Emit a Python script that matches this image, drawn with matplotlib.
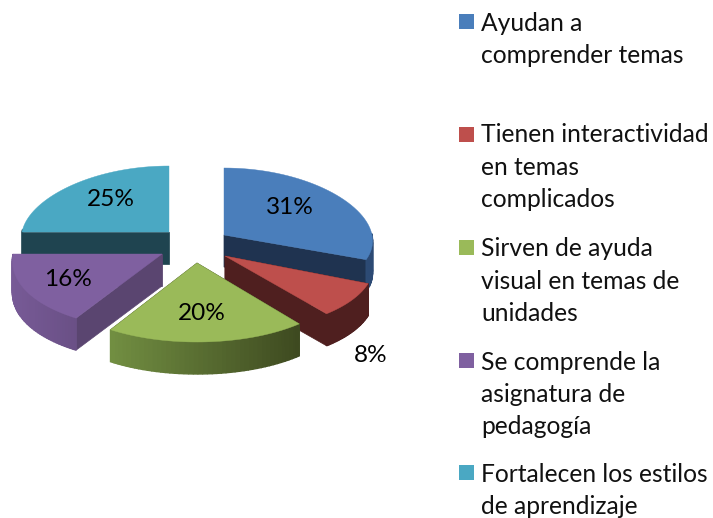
import numpy as np
import matplotlib
matplotlib.use("Agg")
import matplotlib.pyplot as plt
from matplotlib.colors import to_rgb
from matplotlib.patches import Rectangle

# Data
categories = ["Ayudan a\ncomprender temas",
              "Tienen interactividad\nen temas\ncomplicados",
              "Sirven de ayuda\nvisual en temas de\nunidades",
              "Se comprende la\nasignatura de\npedagogía",
              "Fortalecen los estilos\nde aprendizaje"]
shares = [31, 8, 20, 16, 25]
share_labels = ["31%", "8%", "20%", "16%", "25%"]

# Style / layout (pixel space)
top_colors = ["#4A7EBB", "#BE4F4C", "#9ABA59", "#7F60A0", "#4AA8C3"]
side_colors = ["#1F3350", "#4F1F1F", "#3E4A20", "#5A4570", "#1F4450"]
arc_left = ["#2C4A74", "#4F1F1F", "#728F42", "#775A96", "#1F4450"]
arc_right = ["#2C4A74", "#4F1F1F", "#3E4A20", "#6A5086", "#1F4450"]
apex_x = [224, 225, 197, 162, 169]
apex_y = [235, 256, 263, 254, 232]
rad_x = [148, 149, 150, 149, 147]
rad_y = [67, 75, 79, 76, 66]
depth = 32
persp = 0.09
paint_order = [4, 0, 1, 3, 2]
label_xy = [(290, 207), (371, 355), (202, 314), (68, 279), (111, 200)]
swatch_y = [14, 127, 240, 353, 465]
first_line_y = [21.5, 133, 247, 360, 472]
line_step = 32.4

plt.rcParams['font.family'] = ['Lato', 'DejaVu Sans']
fig = plt.figure(figsize=(7.13, 5.18), dpi=100)
ax = fig.add_axes([0, 0, 1, 1])
ax.set_xlim(0, 713)
ax.set_ylim(518, 0)
ax.axis("off")

frac = np.cumsum([0] + shares) / sum(shares) * 2 * np.pi


def project(i, t):
    x = apex_x[i] + rad_x[i] * np.sin(t) * (1 - persp * np.cos(t))
    y = apex_y[i] - rad_y[i] * np.cos(t)
    return x, y


for i in paint_order:
    t0, t1 = frac[i], frac[i + 1]
    ts = np.linspace(t0, t1, 45)
    xs, ys = project(i, ts)
    ax_, ay_ = apex_x[i], apex_y[i]
    z = 1 + paint_order.index(i)
    # radial side faces (edge-on ones at the 12 o'clock line are not drawn)
    for j in (0, -1):
        if abs(xs[j] - ax_) < 1:
            continue
        ax.fill([ax_, xs[j], xs[j], ax_], [ay_, ys[j], ys[j] + depth, ay_ + depth],
                color=side_colors[i], lw=0.5, zorder=z)
    # outer curved side, shaded by horizontal position
    lc, rc = np.array(to_rgb(arc_left[i])), np.array(to_rgb(arc_right[i]))
    xmin, xmax = xs.min(), xs.max()
    for k in range(len(ts) - 1):
        if np.cos(ts[k]) > 0.02 and np.cos(ts[k + 1]) > 0.02:
            continue
        m = (xs[k] - xmin) / max(xmax - xmin, 1)
        ax.fill([xs[k], xs[k + 1], xs[k + 1], xs[k]],
                [ys[k], ys[k + 1], ys[k + 1] + depth, ys[k] + depth],
                color=lc + (rc - lc) * m, lw=1.0, zorder=z)
    # top face
    ax.fill(np.r_[ax_, xs], np.r_[ay_, ys], color=top_colors[i], lw=0.3, zorder=z + 0.5)

for (lx, ly), s in zip(label_xy, share_labels):
    ax.text(lx, ly, s, fontsize=17.6, color="black", ha="center", va="center", zorder=20)

for i, label in enumerate(categories):
    ax.add_patch(Rectangle((459, swatch_y[i]), 15, 15, facecolor=top_colors[i],
                           edgecolor="none"))
    for n, line in enumerate(label.split("\n")):
        ax.text(481, first_line_y[i] + n * line_step, line, fontsize=17.7,
                color="#111111", ha="left", va="center_baseline")

fig.savefig("out.png", dpi=100)
